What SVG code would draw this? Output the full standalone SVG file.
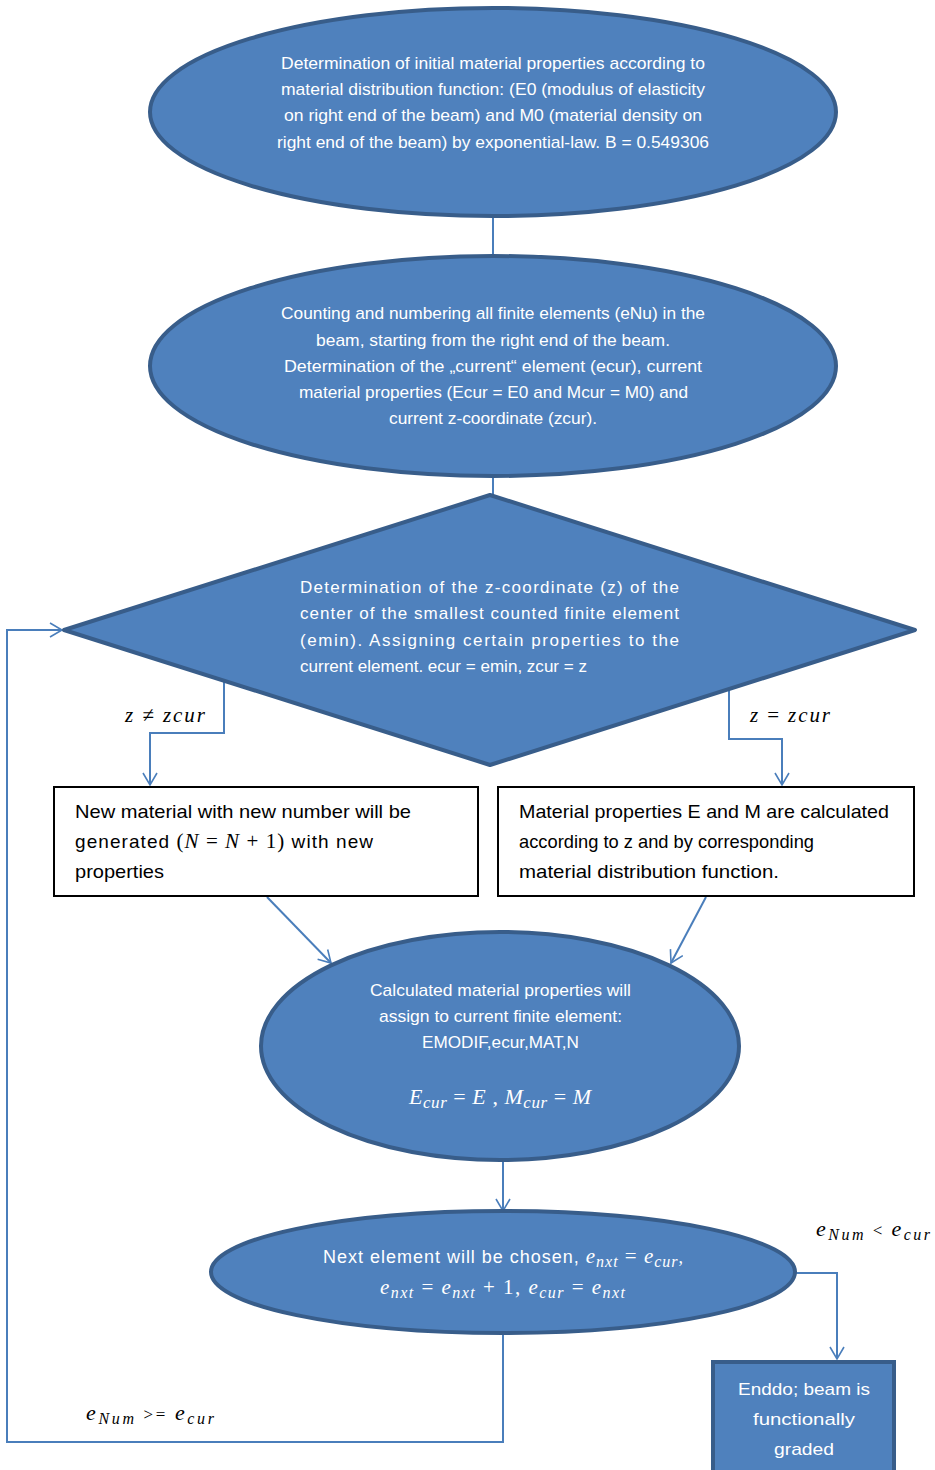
<svg xmlns="http://www.w3.org/2000/svg" width="935" height="1470" viewBox="0 0 935 1470">
<defs>
<marker id="arr" markerUnits="userSpaceOnUse" markerWidth="16" markerHeight="16" refX="13" refY="8" orient="auto">
<path d="M1,1 L13,8 L1,15" fill="none" stroke="#4A7EBB" stroke-width="1.6"/>
</marker>
<style>
.shape{fill:#4F81BD;stroke:#385D8A;stroke-width:4}
.box{fill:#FFFFFF;stroke:#000000;stroke-width:2}
.conn{fill:none;stroke:#4A7EBB;stroke-width:2}
.wt{font-family:"Liberation Sans",Arial,sans-serif;fill:#FFFFFF;font-size:17px}
.bt{font-family:"Liberation Sans",Arial,sans-serif;fill:#000000;font-size:19px}
.m{font-family:"Liberation Serif","Times New Roman",serif;font-style:italic}
.mr{font-family:"Liberation Serif","Times New Roman",serif;font-style:normal}
</style>
</defs>
<rect width="935" height="1470" fill="#FFFFFF"/>

<g id="connectors">
<line class="conn" x1="493" y1="216" x2="493" y2="257"/>
<line class="conn" x1="493" y1="477" x2="493" y2="495"/>
<polyline class="conn" points="224,680 224,733 150,733 150,785" marker-end="url(#arr)"/>
<polyline class="conn" points="729,690 729,739 782,739 782,785" marker-end="url(#arr)"/>
<line class="conn" x1="267" y1="897" x2="331" y2="963" marker-end="url(#arr)"/>
<line class="conn" x1="706" y1="897" x2="671" y2="963" marker-end="url(#arr)"/>
<line class="conn" x1="503" y1="1162" x2="503" y2="1211" marker-end="url(#arr)"/>
<polyline class="conn" points="795,1273 837,1273 837,1359" marker-end="url(#arr)"/>
<polyline class="conn" points="503,1334 503,1442 7,1442 7,630 62,630" marker-end="url(#arr)"/>
<text x="125" y="722" font-size="21" class="m" textLength="80" lengthAdjust="spacing">z ≠ zcur</text>
<text x="750" y="722" font-size="21" class="m" textLength="80" lengthAdjust="spacing">z <tspan class="mr">=</tspan> zcur</text>
<text x="816" y="1236" font-size="22" class="m" textLength="114" lengthAdjust="spacing">e<tspan font-size="16" dy="4">Num</tspan><tspan dy="-4" class="mr" font-size="17" font-family="Liberation Sans"> &lt; </tspan>e<tspan font-size="16" dy="4">cur</tspan></text>
<text x="86" y="1420" font-size="22" class="m" textLength="128" lengthAdjust="spacing">e<tspan font-size="16" dy="4">Num</tspan><tspan dy="-4" class="mr" font-size="17" font-family="Liberation Sans"> &gt;= </tspan>e<tspan font-size="16" dy="4">cur</tspan></text>
</g>

<g id="node1">
<ellipse class="shape" cx="493" cy="112" rx="343" ry="104"/>
<text class="wt" x="281" y="69" textLength="424" lengthAdjust="spacingAndGlyphs">Determination of initial material properties according to</text>
<text class="wt" x="281" y="95" textLength="424" lengthAdjust="spacingAndGlyphs">material distribution function: (E0 (modulus of elasticity</text>
<text class="wt" x="284" y="121" textLength="418" lengthAdjust="spacingAndGlyphs">on right  end of the beam) and M0 (material density on</text>
<text class="wt" x="277" y="148" textLength="432" lengthAdjust="spacingAndGlyphs">right end of the beam) by exponential-law.  B = 0.549306</text>
</g>

<g id="node2">
<ellipse class="shape" cx="493" cy="366" rx="343" ry="110"/>
<text class="wt" x="281" y="319" textLength="424" lengthAdjust="spacingAndGlyphs">Counting and numbering all finite elements (eNu) in the</text>
<text class="wt" x="316" y="346" textLength="354" lengthAdjust="spacingAndGlyphs">beam, starting from the right end of the beam.</text>
<text class="wt" x="284" y="372" textLength="418" lengthAdjust="spacingAndGlyphs">Determination of the „current“ element (ecur), current</text>
<text class="wt" x="299" y="398" textLength="389" lengthAdjust="spacingAndGlyphs">material properties  (Ecur = E0 and Mcur = M0) and</text>
<text class="wt" x="389" y="424" textLength="208" lengthAdjust="spacingAndGlyphs">current z-coordinate (zcur).</text>
</g>

<g id="node3">
<polygon class="shape" points="490,495 915,630 490,765 64,630" stroke-linejoin="round"/>
<text class="wt" font-size="16" x="300" y="593" textLength="379" lengthAdjust="spacing">Determination  of the z-coordinate (z) of the</text>
<text class="wt" font-size="16" x="300" y="619" textLength="379" lengthAdjust="spacing">center of the smallest counted finite element</text>
<text class="wt" font-size="16" x="300" y="646" textLength="379" lengthAdjust="spacing">(emin). Assigning certain properties to the</text>
<text class="wt" font-size="16" x="300" y="672" textLength="287" lengthAdjust="spacingAndGlyphs">current element. ecur = emin, zcur = z</text>
</g>

<g id="node4">
<rect class="box" x="54" y="787" width="424" height="109"/>
<text class="bt" x="75" y="818" textLength="336" lengthAdjust="spacingAndGlyphs">New material with new number will be</text>
<text class="bt" x="75" y="848" textLength="298" lengthAdjust="spacing">generated <tspan class="mr" font-size="21">(</tspan><tspan class="m" font-size="21">N</tspan><tspan class="mr" font-size="21"> = </tspan><tspan class="m" font-size="21">N</tspan><tspan class="mr" font-size="21"> + 1)</tspan>  with new</text>
<text class="bt" x="75" y="878" textLength="89" lengthAdjust="spacingAndGlyphs">properties</text>
</g>

<g id="node5">
<rect class="box" x="498" y="787" width="416" height="109"/>
<text class="bt" x="519" y="818" textLength="370" lengthAdjust="spacingAndGlyphs">Material properties E and M are calculated</text>
<text class="bt" x="519" y="848" textLength="295" lengthAdjust="spacingAndGlyphs">according to  z and by  corresponding</text>
<text class="bt" x="519" y="878" textLength="260" lengthAdjust="spacingAndGlyphs">material distribution function.</text>
</g>

<g id="node6">
<ellipse class="shape" cx="500" cy="1046" rx="239" ry="114"/>
<text class="wt" x="370" y="996" textLength="261" lengthAdjust="spacingAndGlyphs">Calculated material properties will</text>
<text class="wt" x="379" y="1022" textLength="243" lengthAdjust="spacingAndGlyphs">assign to current finite element:</text>
<text class="wt" x="422" y="1048" textLength="157" lengthAdjust="spacingAndGlyphs">EMODIF,ecur,MAT,N</text>
<text x="409" y="1104" fill="#FFFFFF" font-size="22" class="m" textLength="182" lengthAdjust="spacing">E<tspan font-size="17" dy="4">cur</tspan><tspan dy="-4" class="mr"> = </tspan>E<tspan class="mr"> , </tspan>M<tspan font-size="17" dy="4">cur</tspan><tspan dy="-4" class="mr"> = </tspan>M</text>
</g>

<g id="node7">
<ellipse class="shape" cx="503" cy="1272" rx="292" ry="61"/>
<text x="323" y="1263" fill="#FFFFFF" font-size="18" font-family="Liberation Sans, Arial, sans-serif" textLength="360" lengthAdjust="spacing">Next element will be chosen, <tspan class="m" font-size="21">e</tspan><tspan class="m" font-size="16" dy="4">nxt</tspan><tspan class="mr" font-size="21" dy="-4"> = </tspan><tspan class="m" font-size="21">e</tspan><tspan class="m" font-size="16" dy="4">cur</tspan><tspan class="mr" dy="-4">,</tspan></text>
<text x="380" y="1294" fill="#FFFFFF" font-size="21" class="m" textLength="245" lengthAdjust="spacing">e<tspan font-size="16" dy="4">nxt</tspan><tspan class="mr" dy="-4"> = </tspan>e<tspan font-size="16" dy="4">nxt</tspan><tspan class="mr" dy="-4"> + 1, </tspan>e<tspan font-size="16" dy="4">cur</tspan><tspan class="mr" dy="-4"> = </tspan>e<tspan font-size="16" dy="4">nxt</tspan></text>
</g>

<g id="node8">
<rect class="shape" x="713" y="1362" width="181" height="112"/>
<text class="wt" font-size="20" x="738" y="1395" textLength="132" lengthAdjust="spacingAndGlyphs">Enddo; beam is</text>
<text class="wt" font-size="20" x="753" y="1425" textLength="102" lengthAdjust="spacingAndGlyphs">functionally</text>
<text class="wt" font-size="20" x="774" y="1455" textLength="60" lengthAdjust="spacingAndGlyphs">graded</text>
</g>
</svg>
